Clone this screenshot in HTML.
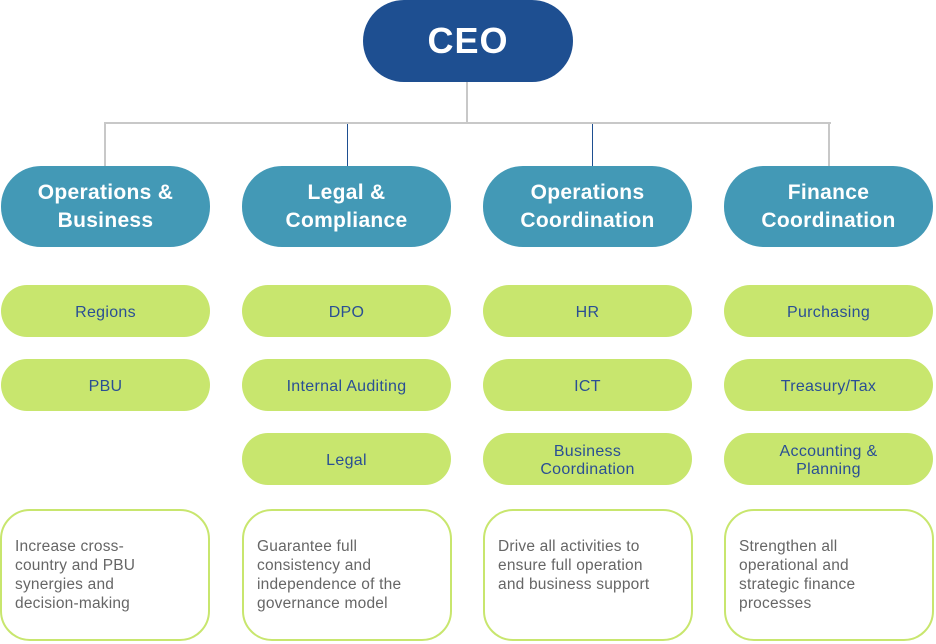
<!DOCTYPE html>
<html><head><meta charset="utf-8">
<style>
html,body{margin:0;padding:0;background:#fff;}
body{width:936px;height:644px;position:relative;overflow:hidden;font-family:"Liberation Sans",sans-serif;}
.a{position:absolute;box-sizing:border-box;display:flex;align-items:center;justify-content:center;text-align:center;}
.ceo{left:363px;top:0;width:210px;height:82px;border-radius:41px;background:#1e4f91;color:#fff;font-weight:bold;font-size:36px;letter-spacing:1px;}
.hd{top:166px;width:209px;height:81px;border-radius:40px;background:#4399b6;color:#fff;font-weight:bold;font-size:21px;line-height:28px;letter-spacing:0.3px;}
.pl{width:209px;height:52px;border-radius:26px;background:#c8e66e;color:#2a4f94;font-size:16px;line-height:18px;padding-top:4px;letter-spacing:0.3px;}
.ds{top:509px;width:210px;height:132px;border:2px solid #c8e66e;border-radius:30px;color:#666;font-size:15.5px;line-height:19px;justify-content:flex-start;align-items:flex-start;text-align:left;padding:26px 10px 0 13px;letter-spacing:0.2px;}
.ln{position:absolute;}
</style></head><body>
<div class="ln" style="left:466px;top:82px;width:2px;height:42px;background:#c8c8c8"></div>
<div class="ln" style="left:104px;top:122px;width:727px;height:2px;background:#c8c8c8"></div>
<div class="ln" style="left:104px;top:122px;width:2px;height:44px;background:#c8c8c8"></div>
<div class="ln" style="left:347px;top:124px;width:1px;height:42px;background:#1e4f91"></div>
<div class="ln" style="left:592px;top:124px;width:1px;height:42px;background:#1e4f91"></div>
<div class="ln" style="left:828px;top:122px;width:2px;height:44px;background:#c8c8c8"></div>

<div class="a ceo">CEO</div>

<div class="a hd" style="left:1px">Operations &amp;<br>Business</div>
<div class="a hd" style="left:242px">Legal &amp;<br>Compliance</div>
<div class="a hd" style="left:483px">Operations<br>Coordination</div>
<div class="a hd" style="left:724px">Finance<br>Coordination</div>

<div class="a pl" style="left:1px;top:285px">Regions</div>
<div class="a pl" style="left:1px;top:359px">PBU</div>
<div class="a pl" style="left:242px;top:285px">DPO</div>
<div class="a pl" style="left:242px;top:359px">Internal Auditing</div>
<div class="a pl" style="left:242px;top:433px">Legal</div>
<div class="a pl" style="left:483px;top:285px">HR</div>
<div class="a pl" style="left:483px;top:359px">ICT</div>
<div class="a pl" style="left:483px;top:433px">Business<br>Coordination</div>
<div class="a pl" style="left:724px;top:285px">Purchasing</div>
<div class="a pl" style="left:724px;top:359px">Treasury/Tax</div>
<div class="a pl" style="left:724px;top:433px">Accounting &amp;<br>Planning</div>

<div class="a ds" style="left:0px">Increase cross-<br>country and PBU<br>synergies and<br>decision-making</div>
<div class="a ds" style="left:242px">Guarantee full<br>consistency and<br>independence of the<br>governance model</div>
<div class="a ds" style="left:483px">Drive all activities to<br>ensure full operation<br>and business support</div>
<div class="a ds" style="left:724px">Strengthen all<br>operational and<br>strategic finance<br>processes</div>
</body></html>
